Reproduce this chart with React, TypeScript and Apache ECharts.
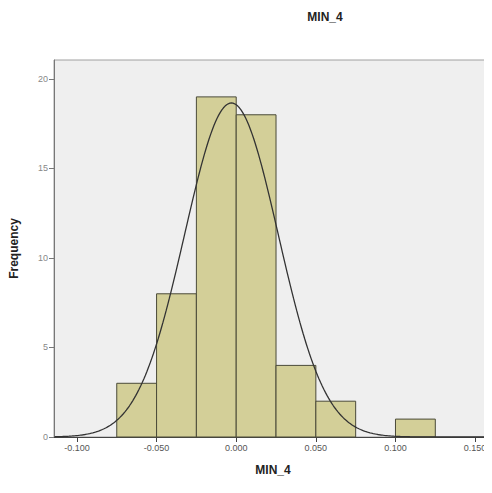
import React, { useEffect, useRef } from "react";
import * as echarts from "echarts";

// Histogram bins (lower edge, upper edge) and frequencies
const binStarts = [-0.075, -0.05, -0.025, 0.0, 0.025, 0.05, 0.075, 0.1];
const binWidth = 0.025;
const frequencies = [3, 8, 19, 18, 4, 2, 0, 1];

// Fitted normal curve parameters
const curveMean = -0.003;
const curveStdDev = 0.0294;
const sampleN = 55;

const xTickValues = [-0.1, -0.05, 0, 0.05, 0.1, 0.15];
const yTickValues = [0, 5, 10, 15, 20];

const FONT = "'Liberation Sans', Arial, sans-serif";

export default function App() {
  const ref = useRef<HTMLDivElement>(null);

  useEffect(() => {
    if (!ref.current) return;
    const chart = echarts.init(ref.current, undefined, { renderer: "svg" });

    const barData = binStarts
      .map((s, i) => [s, s + binWidth, frequencies[i]])
      .filter((d) => d[2] > 0);

    const curve: number[][] = [];
    for (let x = -0.114; x <= 0.16; x += 0.001) {
      const z = (x - curveMean) / curveStdDev;
      const y =
        (sampleN * binWidth) / (curveStdDev * Math.sqrt(2 * Math.PI)) *
        Math.exp(-0.5 * z * z);
      curve.push([x, y]);
    }

    chart.setOption({
      animation: false,
      textStyle: { fontFamily: FONT },
      graphic: [
        {
          type: "text",
          x: 325,
          y: 11,
          style: {
            text: "MIN_4",
            fontFamily: FONT,
            fontSize: 12,
            fontWeight: "bold",
            fill: "#222",
            textAlign: "center",
          },
        },
      ],
      grid: {
        left: 52,
        right: 0,
        top: 60,
        bottom: 56,
        show: true,
        backgroundColor: "#efefef",
        borderColor: "#a0a0a0",
        borderWidth: 1,
      },
      xAxis: {
        type: "value",
        min: -0.1144,
        max: 0.1606,
        name: "MIN_4",
        nameLocation: "middle",
        nameGap: 27,
        nameTextStyle: { fontFamily: FONT, fontSize: 12, fontWeight: "bold", color: "#222" },
        axisLine: { show: true, onZero: false, lineStyle: { color: "#444", width: 1 } },
        axisTick: {
          show: true,
          length: 5,
          lineStyle: { color: "#444" },
          customValues: xTickValues,
        },
        axisLabel: {
          customValues: xTickValues,
          formatter: (v: number) => v.toFixed(3),
          fontSize: 9,
          color: "#555",
          margin: 6,
        },
        splitLine: { show: false },
      },
      yAxis: {
        type: "value",
        min: 0,
        max: 21.06,
        name: "Frequency",
        nameLocation: "middle",
        nameGap: 34,
        nameRotate: 90,
        nameTextStyle: { fontFamily: FONT, fontSize: 12, fontWeight: "bold", color: "#222" },
        axisLine: { show: true, onZero: false, lineStyle: { color: "#777", width: 1 } },
        axisTick: {
          show: true,
          length: 5,
          lineStyle: { color: "#777" },
          customValues: yTickValues,
        },
        axisLabel: {
          customValues: yTickValues,
          fontSize: 9,
          color: "#888",
          margin: 6,
        },
        splitLine: { show: false },
      },
      series: [
        {
          type: "custom",
          data: barData,
          renderItem: (params: any, api: any) => {
            const p0 = api.coord([api.value(0), api.value(2)]);
            const p1 = api.coord([api.value(1), 0]);
            return {
              type: "rect",
              shape: { x: p0[0], y: p0[1], width: p1[0] - p0[0], height: p1[1] - p0[1] },
              style: { fill: "#d3cf98", stroke: "#4a4a38", lineWidth: 1 },
            };
          },
          z: 2,
        },
        {
          type: "line",
          data: curve,
          showSymbol: false,
          smooth: false,
          lineStyle: { color: "#333", width: 1.3 },
          z: 3,
        },
      ],
    });

    return () => chart.dispose();
  }, []);

  return <div ref={ref} style={{ width: 492, height: 493, margin: -8 }} />;
}
